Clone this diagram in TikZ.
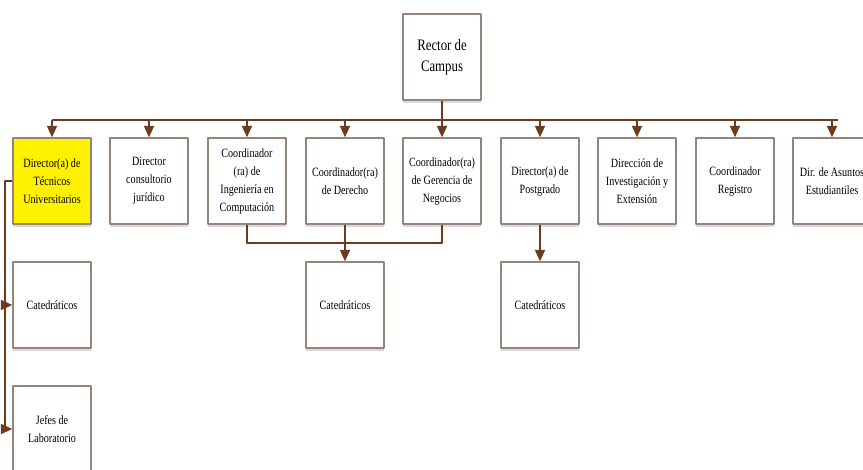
\documentclass[tikz,border=0pt]{standalone}
\usepackage{fontspec}
\setmainfont{Liberation Serif}[FakeStretch=0.8]
\usetikzlibrary{arrows.meta,shadows}
\definecolor{cafe}{RGB}{108,58,28}
\definecolor{borde}{RGB}{150,132,122}
\begin{document}
\begin{tikzpicture}[x=0.75pt,y=-0.75pt,line join=round,>={Triangle[length=8.5pt,width=7.5pt]},
  caja/.style={draw=borde,line width=1.1pt,fill=white,minimum width=58.5pt,minimum height=64.5pt,
    inner sep=1pt,align=center,font=\fontsize{9.5}{13.5}\selectfont,
    drop shadow={shadow xshift=0pt,shadow yshift=-2pt,opacity=0.3}},
  enlace/.style={draw=cafe,line width=1.2pt}]
 			\useasboundingbox (0,0) rectangle (863,470);
 			\node[caja,font=\fontsize{12}{16}\selectfont] (rector) at (442,57) {Rector de\\Campus};
 			\node[caja,fill=yellow] (dtec) at (52,181) {Director(a) de\\Técnicos\\Universitarios};
 			\node[caja] (djur) at (149,181) {Director\\consultorio\\jurídico};
 			\node[caja] (cing) at (247,181) {Coordinador\\(ra) de\\Ingeniería en\\Computación};
 			\node[caja] (cder) at (345,181) {Coordinador(ra)\\de Derecho};
 			\node[caja] (cger) at (442,181) {Coordinador(ra)\\de Gerencia de\\Negocios};
 			\node[caja] (dpos) at (540,181) {Director(a) de\\Postgrado};
 			\node[caja] (dinv) at (637,181) {Dirección de\\Investigación y\\Extensión};
 			\node[caja] (creg) at (735,181) {Coordinador\\Registro};
 			\node[caja] (dasu) at (832,181) {Dir. de Asuntos\\Estudiantiles};
 			\node[caja] (catizq) at (52,305) {Catedráticos};
 			\node[caja] (jefes) at (52,429) {Jefes de\\Laboratorio};
 			\node[caja] (catcen) at (345,305) {Catedráticos};
 			\node[caja] (catpos) at (540,305) {Catedráticos};
 			% barra bajo el rector
 			\coordinate (bus) at (442,120);
 			\draw[enlace] (rector.south) -- (bus);
 			\draw[enlace] (dtec.north |- bus) -- (838,120);
 			\foreach \n in {dtec,djur,cing,cder,cger,dpos,dinv,creg,dasu}
 				\draw[enlace,->] (\n.north |- bus) -- (\n.north);
 			% catedraticos comunes
 			\coordinate (union) at (345,243);
 			\draw[enlace] (cing.south) -- (cing.south |- union) -- (cger.south |- union) -- (cger.south);
 			\draw[enlace,->] (cder.south) -- (catcen.north);
 			\draw[enlace,->] (dpos.south) -- (catpos.north);
 			% columna izquierda
 			\coordinate (lado) at (5,181);
 			\draw[enlace] (dtec.west) -- (lado) -- (lado |- jefes.west);
 			\draw[enlace,->] (lado |- catizq.west) -- (catizq.west);
 			\draw[enlace,->] (lado |- jefes.west) -- (jefes.west);
 		\end{tikzpicture}
\end{document}
